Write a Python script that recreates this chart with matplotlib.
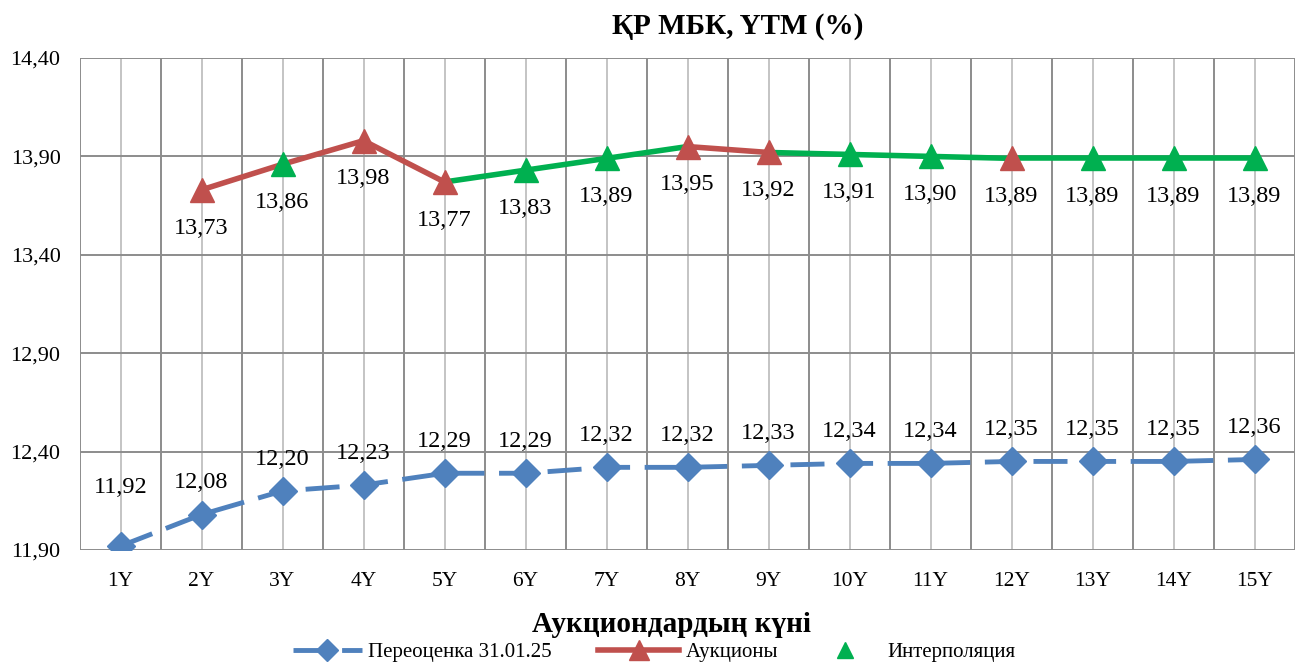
import matplotlib
matplotlib.use("Agg")
import matplotlib.pyplot as plt
import numpy as np
from matplotlib.lines import Line2D

categories = ["1Y", "2Y", "3Y", "4Y", "5Y", "6Y", "7Y", "8Y", "9Y", "10Y", "11Y", "12Y", "13Y", "14Y", "15Y"]
reval = [11.92, 12.08, 12.20, 12.23, 12.29, 12.29, 12.32, 12.32, 12.33, 12.34, 12.34, 12.35, 12.35, 12.35, 12.36]
auctions = [np.nan, 13.73, np.nan, 13.98, 13.77, np.nan, np.nan, 13.95, 13.92, np.nan, np.nan, 13.89, np.nan, np.nan, np.nan]
interp = [np.nan, np.nan, 13.86, np.nan, np.nan, 13.83, 13.89, np.nan, np.nan, 13.91, 13.90, np.nan, 13.89, 13.89, 13.89]
red_segments = [(1, 2), (2, 3), (3, 4), (7, 8)]  # segment colouring (style)

plt.rcParams['font.family'] = ['Liberation Serif', 'DejaVu Serif']

BLUE = "#4F81BD"
RED = "#C0504D"
GREEN = "#00B050"

fig = plt.figure(figsize=(13, 6.64), dpi=100)
ax = fig.add_axes([80/1300, 1 - 550/664, 1215/1300, 492/664])

x = np.arange(len(categories))
ymin, ymax = 11.90, 14.40

# grid
for b in np.arange(-0.5, len(categories) + 0.5, 1):
    ax.axvline(b, color="#8C8C8C", lw=1.4, zorder=0)
for c in x:
    ax.axvline(c, color="#C4C4C4", lw=1.4, zorder=0)
for yv in np.arange(ymin, ymax + 0.001, 0.5):
    ax.axhline(yv, color="#8C8C8C", lw=1.4, zorder=0)

# combined top curve
combined = [a if not np.isnan(a) else i for a, i in zip(auctions, interp)]
for k in range(len(combined) - 1):
    y0, y1 = combined[k], combined[k + 1]
    if np.isnan(y0) or np.isnan(y1):
        continue
    col = RED if (k, k + 1) in red_segments else GREEN
    ax.plot([x[k], x[k + 1]], [y0, y1], color=col, lw=4, solid_capstyle='round', zorder=2)

ax.plot(x, auctions, linestyle='none', marker='^', ms=17, color=RED, zorder=3)
ax.plot(x, interp, linestyle='none', marker='^', ms=17, color=GREEN, zorder=3)

ax.plot(x, reval, color=BLUE, lw=3.5, dashes=(7, 3), marker='D', ms=14, zorder=3)

def fmt(v):
    return f"{v:.2f}".replace(".", ",")

for xi, v in zip(x, combined):
    if not np.isnan(v):
        ax.annotate(fmt(v), (xi, v), xytext=(0, -27.5), textcoords='offset points', ha='center', va='center', fontsize=17.5)
for xi, v in zip(x, reval):
    off = 42 if xi == 0 else 23
    ax.annotate(fmt(v), (xi, v), xytext=(0, off), textcoords='offset points', ha='center', va='center', fontsize=17.5)

ax.set_xlim(-0.5, len(categories) - 0.5)
ax.set_ylim(ymin, ymax)
ax.set_xticks(x)
ax.set_xticklabels(categories, fontsize=15.5)
yt = np.arange(ymin, ymax + 0.001, 0.5)
ax.set_yticks(yt)
ax.set_yticklabels([fmt(v) for v in yt], fontsize=16)
ax.tick_params(length=0, pad=16)
ax.tick_params(axis='y', pad=14)
for s in ax.spines.values():
    s.set_visible(False)

fig.text(738/1300, 1 - 27/664, "ҚР МБК, YTM (%)", ha='center', va='center', fontsize=21, fontweight='bold')
fig.text(671/1300, 1 - 625/664, "Аукциондардың күні", ha='center', va='center', fontsize=21, fontweight='bold')

leg_y = 1 - 652/664
specs = [
    (Line2D([0], [0], color=BLUE, lw=3.5, dashes=(7, 3), marker='D', ms=11), "Переоценка 31.01.25", 293, 3.3),
    (Line2D([0], [0], color=RED, lw=4, marker='^', ms=14), "Аукционы", 598, 3.9),
    (Line2D([0], [0], color=GREEN, lw=0, marker='^', ms=11), "Интерполяция", 809, 3.45),
]
for h, lab, xl, hl in specs:
    fig.legend([h], [lab], loc='center left', bbox_to_anchor=(xl/1300, leg_y), frameon=False,
               fontsize=15, handlelength=hl, handletextpad=0.3, borderpad=0, borderaxespad=0)

fig.savefig("out.png", dpi=100)
